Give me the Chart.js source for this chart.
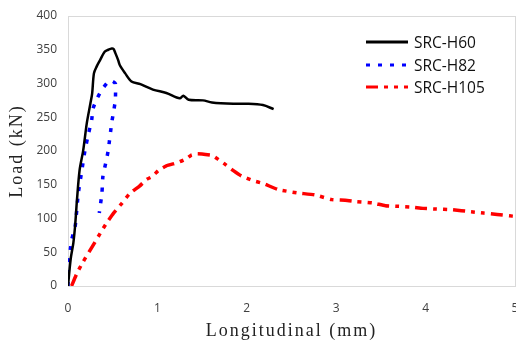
<!DOCTYPE html>
<html>
<head>
<meta charset="utf-8">
<script src="https://cdn.jsdelivr.net/npm/chart.js@4.4.1/dist/chart.umd.min.js"></script>
<style>
    html, body { margin: 0; padding: 0; background: #fff; }
    .wrap { position: relative; width: 516px; height: 343px; }
    .legend { position: absolute; left: 366px; top: 31px; font-family: "Open Sans", sans-serif; font-size: 15.5px; color: #111; }
    .legend-row { display: flex; align-items: center; height: 22.5px; }
    .legend-row svg { width: 42px; height: 8px; margin-right: 6px; }
</style>
</head>
<body>
<div class="wrap">
    <canvas id="loadChart" width="516" height="343"></canvas>
    <div class="legend" id="legend"></div>
</div>
<script>
const h60X = [0, 0.03, 0.06, 0.08, 0.10, 0.13, 0.17, 0.21, 0.25, 0.27, 0.29, 0.32, 0.36, 0.41, 0.45, 0.49, 0.51, 0.53, 0.56, 0.58, 0.64, 0.71, 0.81, 0.95, 1.10, 1.25, 1.29, 1.35, 1.51, 1.61, 1.85, 2.00, 2.18, 2.30];
const h60Y = [0, 40, 64, 90, 127, 172, 201, 241, 270, 285, 315, 325, 335, 347, 350, 352, 351, 345, 335, 327, 315, 303, 299, 291, 286, 278, 282, 276, 275, 272, 270, 270, 268, 262];

const h82X = [0, 0, 0.04, 0.08, 0.115, 0.15, 0.19, 0.23, 0.265, 0.28, 0.33, 0.38, 0.46, 0.50, 0.53, 0.53, 0.51, 0.49, 0.45, 0.43, 0.39, 0.38, 0.35];
const h82Y = [0, 24, 68, 88, 137, 167, 201, 226, 246, 263, 279, 291, 304, 303, 300, 276, 258, 243, 201, 187, 162, 138, 108];

const h105X = [0.04, 0.10, 0.17, 0.27, 0.36, 0.43, 0.51, 0.60, 0.69, 0.80, 0.88, 0.94, 1.01, 1.10, 1.23, 1.33, 1.38, 1.45, 1.59, 1.62, 1.74, 1.85, 1.94, 2.07, 2.18, 2.35, 2.56, 2.76, 2.95, 3.10, 3.23, 3.41, 3.55, 3.70, 3.84, 3.97, 4.12, 4.29, 4.51, 4.65, 4.80, 4.94, 5.00];
const h105Y = [0, 19, 36, 58, 78, 93, 108, 122, 137, 148, 158, 162, 171, 178, 183, 189, 194, 196, 194, 193, 182, 171, 163, 156, 152, 143, 138, 135, 128, 127, 125, 123, 119, 118, 117, 115, 114, 113, 110, 108, 106, 104, 103];

const seriesNames = ["SRC-H60", "SRC-H82", "SRC-H105"];
const xTitle = "Longitudinal (mm)";
const yTitle = "Load (kN)";

const toPoints = (xs, ys) => xs.map((x, i) => ({ x: x, y: ys[i] }));

const styles = [
    { color: "#000000", width: 2.5, dash: [] },
    { color: "#0000ff", width: 3.5, dash: [4, 8] },
    { color: "#ff0000", width: 3.5, dash: [12, 6, 4, 6, 4, 6] }
];

// plot frame
const areaBorder = {
    id: 'areaBorder',
    beforeDraw(chart) {
        const { ctx, chartArea: a } = chart;
        ctx.save();
        ctx.strokeStyle = "#d9d9d9";
        ctx.lineWidth = 1;
        ctx.strokeRect(a.left + 0.5, a.top + 0.5, a.right - a.left, a.bottom - a.top);
        ctx.restore();
    }
};

// spaced out axis titles (titles are drawn before the datasets, tick labels after)
const spacedTitles = {
    id: 'spacedTitles',
    beforeDraw(chart) { chart.ctx.letterSpacing = "2px"; },
    beforeDatasetsDraw(chart) { chart.ctx.letterSpacing = "0px"; }
};

const tickFont = { family: "Open Sans", size: 12 };
const titleFont = { family: "Liberation Serif", size: 18 };

new Chart(document.getElementById('loadChart'), {
    type: 'line',
    data: {
        datasets: [
            { label: seriesNames[0], data: toPoints(h60X, h60Y) },
            { label: seriesNames[1], data: toPoints(h82X, h82Y) },
            { label: seriesNames[2], data: toPoints(h105X, h105Y) }
        ].map((d, i) => Object.assign(d, {
            borderColor: styles[i].color,
            borderWidth: styles[i].width,
            borderDash: styles[i].dash,
            pointRadius: 0,
            fill: false,
            tension: i === 0 ? 0.3 : 0.15
        }))
    },
    options: {
        responsive: false,
        animation: false,
        devicePixelRatio: 1,
        layout: { padding: { top: 16, right: 1, left: 0, bottom: 0 } },
        plugins: {
            legend: { display: false },
            tooltip: { enabled: false }
        },
        scales: {
            x: {
                type: 'linear',
                min: 0,
                max: 5,
                grid: { display: false, drawTicks: false },
                border: { display: false },
                ticks: { stepSize: 1, padding: 15, color: "#404040", font: tickFont, z: 1 },
                title: { display: true, text: xTitle, color: "#222", font: titleFont, padding: { top: 0, bottom: 1 } },
                afterFit(scale) {
                    scale.height = 57;
                    scale.paddingLeft = 0;
                    scale.paddingRight = 0;
                }
            },
            y: {
                min: 0,
                max: 400,
                grid: { display: false, drawTicks: false },
                border: { display: false },
                ticks: { stepSize: 50, padding: 11, color: "#404040", font: tickFont, z: 1 },
                title: { display: true, text: yTitle, color: "#222", font: titleFont, padding: { top: 6, bottom: 0 } },
                afterFit(scale) {
                    scale.width = 68;
                    scale.paddingTop = 0;
                    scale.paddingBottom = 0;
                }
            }
        }
    },
    plugins: [areaBorder, spacedTitles]
});

// legend
const legend = document.getElementById('legend');
seriesNames.forEach((name, i) => {
    const s = styles[i];
    legend.innerHTML += `
        <div class="legend-row">
            <svg viewBox="0 0 42 8"><line x1="0" y1="4" x2="42" y2="4" stroke="${s.color}" stroke-width="3" stroke-dasharray="${s.dash.join(' ') || 'none'}"/></svg>
            <span>${name}</span>
        </div>`;
});
</script>
</body>
</html>
